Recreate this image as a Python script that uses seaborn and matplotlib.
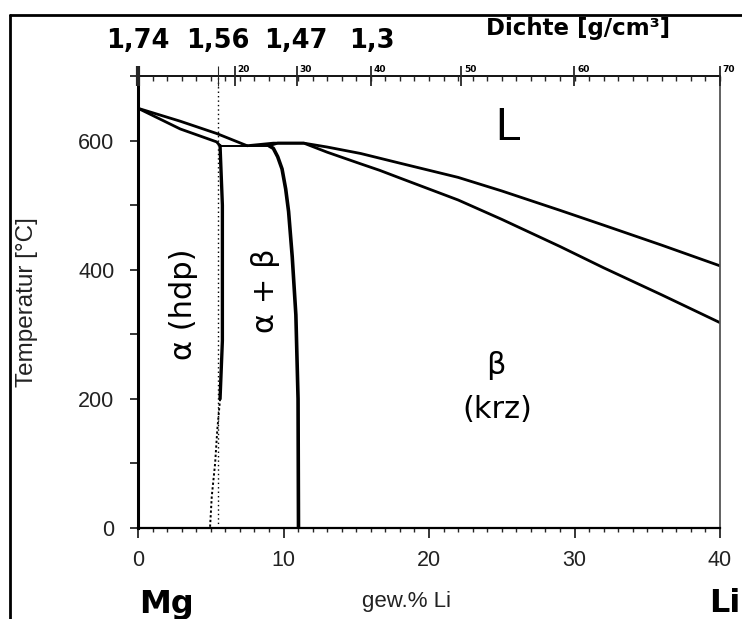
import numpy as np
import pandas as pd
import matplotlib
matplotlib.use("Agg")
import matplotlib.pyplot as plt
import seaborn as sns
from matplotlib.lines import Line2D
from matplotlib.ticker import MultipleLocator, FixedLocator, NullFormatter

# ---------------- data (wt.% Li, temperature in °C) ----------------
liq_a_x = [0, 2.9, 5.4, 7.5]
liq_a_t = [650, 630, 611, 592]
sol_a_x = [0, 2.9, 5.4, 5.64]
sol_a_t = [650, 618, 598, 592]
eut_x = [5.64, 9.0]
eut_t = [592, 592]
liq_b_x = [7.5, 9.3, 11.4, 13.0, 15.3, 18, 22, 25, 29, 32, 36, 40]
liq_b_t = [592, 596, 596, 590, 580, 565, 543, 522, 492, 469, 438, 406]
sol_b_x = [9.0, 9.6, 11.4, 13.0, 15.3, 16.6, 18, 22, 25, 29, 32, 36, 40]
sol_b_t = [592, 596, 596, 582, 564, 554, 542, 508, 478, 436, 403, 361, 318]
solv_b_x = [9.0, 9.3, 9.6, 9.9, 10.15, 10.35, 10.6, 10.85, 11.0, 11.03]
solv_b_t = [592, 588, 575, 556, 525, 490, 420, 330, 200, 0]
solv_a_x = [5.64, 5.8, 5.8, 5.64]
solv_a_t = [592, 500, 290, 200]
solv_a_dot_x = [5.64, 5.45, 5.3, 5.07, 4.95]
solv_a_dot_t = [200, 152, 100, 49, 0]
ref_x = [5.52, 5.52]
ref_t = [0, 700]

x_ticks = [0, 10, 20, 30, 40]
y_ticks = [0, 200, 400, 600]
at_pct = [20, 30, 40, 50, 60, 70]
density_labels = ["1,74", "1,56", "1,47", "1,3"]
density_wt = [0.0, 5.52, 10.85, 16.07]
M_LI, M_MG = 6.941, 24.305


def at_to_wt(a):
    a = np.asarray(a, dtype=float)
    return 100 * a * M_LI / (a * M_LI + (100 - a) * M_MG)


# ---------------- style ----------------
sns.set_style("white")
plt.rcParams["font.family"] = ["Liberation Sans", "DejaVu Sans"]
plt.rcParams["text.color"] = "black"

W, H = 742, 619
fig = plt.figure(figsize=(W / 100, H / 100), dpi=100)
ax = fig.add_axes([138 / W, 1 - 528 / H, (720 - 138) / W, (528 - 76) / H])


def curve(xs, ts, lw=2.0, ls="-", color="black"):
    df = pd.DataFrame({"x": xs, "T": ts})
    sns.lineplot(data=df, x="x", y="T", ax=ax, sort=False, estimator=None,
                 color=color, lw=lw, linestyle=ls)


curve(liq_a_x, liq_a_t, 2.0)
curve(sol_a_x, sol_a_t, 2.0)
curve(eut_x, eut_t, 1.4)
curve(liq_b_x, liq_b_t, 2.0)
curve(sol_b_x, sol_b_t, 2.0)
curve(solv_b_x, solv_b_t, 2.6)
curve(solv_a_x, solv_a_t, 2.4)
curve(solv_a_dot_x, solv_a_dot_t, 1.4, (0, (1.2, 1.2)))
curve(ref_x, ref_t, 1.0, (0, (1, 2.2)))

ax.set_xlim(0, 40)
ax.set_ylim(0, 700)
ax.set_xlabel("")
ax.set_ylabel("")

ax.xaxis.set_major_locator(FixedLocator(x_ticks))
ax.xaxis.set_minor_locator(MultipleLocator(1))
ax.yaxis.set_major_locator(FixedLocator(y_ticks))
ax.yaxis.set_minor_locator(MultipleLocator(100))
ax.tick_params(axis="x", which="major", direction="out", length=7, width=1.3,
               pad=9, labelsize=15.5, labelcolor="#222", bottom=True, top=False)
ax.tick_params(axis="x", which="minor", direction="out", length=3, width=1.0,
               bottom=True, top=False)
ax.tick_params(axis="y", which="both", direction="out", length=6, width=1.3,
               pad=11, labelsize=15.5, labelcolor="#222", left=True, right=False)

for side, lw, col in [("left", 2.2, "black"), ("bottom", 1.6, "black"),
                      ("top", 1.3, "black"), ("right", 1.3, "#555555")]:
    ax.spines[side].set_visible(True)
    ax.spines[side].set_linewidth(lw)
    ax.spines[side].set_color(col)

# ---------------- top axis: at.% Li and density ----------------
ax2 = ax.twiny()
ax2.set_xlim(0, 40)
for s in ax2.spines.values():
    s.set_visible(False)
top_major = [0.0, 5.52] + list(at_to_wt(at_pct))
ax2.xaxis.set_major_locator(FixedLocator(top_major))
ax2.xaxis.set_major_formatter(NullFormatter())
ax2.xaxis.set_minor_locator(MultipleLocator(1))
ax2.tick_params(axis="x", which="major", direction="inout", length=14, width=1.3)
ax2.tick_params(axis="x", which="minor", direction="in", length=3.5, width=1.0)
ticks = ax2.xaxis.get_major_ticks()
ticks[0].tick2line.set_markeredgewidth(3)
ticks[1].tick2line.set_markeredgewidth(0.8)

for a, w in zip(at_pct, at_to_wt(at_pct)):
    ax2.annotate(str(a), xy=(w, 1), xycoords=("data", "axes fraction"),
                 xytext=(2, 1.5), textcoords="offset points", ha="left",
                 va="bottom", fontsize=6.5, family="DejaVu Sans", fontweight="bold")

for lab, w in zip(density_labels, density_wt):
    ax2.text(w, 1.078, lab, transform=ax2.get_xaxis_transform(), ha="center",
             va="center", fontsize=18.5, fontweight="bold", family="DejaVu Sans")

ax2.text(578 / W, 1 - 29 / H, "Dichte [g/cm³]", transform=fig.transFigure,
         ha="center", va="center", fontsize=16.5, fontweight="bold",
         family="DejaVu Sans")

# ---------------- region labels ----------------
ax.text(25.4, 619, "L", ha="center", va="center", fontsize=33)
ax.text(3.1, 347, "α (hdp)", ha="center", va="center", fontsize=22,
        rotation=90, family="DejaVu Sans")
ax.text(8.73, 367, "α + β", ha="center", va="center", fontsize=22,
        rotation=90, family="DejaVu Sans")
ax.text(24.6, 252, "β", ha="center", va="center", fontsize=22,
        family="DejaVu Sans")
ax.text(24.7, 183, "(krz)", ha="center", va="center", fontsize=22,
        family="DejaVu Sans")

# ---------------- axis titles ----------------
fig.text(27 / W, 1 - 302 / H, "Temperatur [°C]", rotation=90, ha="center",
         va="center", fontsize=17.5, color="#222")
fig.text(406 / W, 1 - 601 / H, "gew.% Li", ha="center", va="center",
         fontsize=16, color="#222")
fig.text(166 / W, 1 - 604 / H, "Mg", ha="center", va="center", fontsize=23,
         fontweight="bold", family="DejaVu Sans")
fig.text(709 / W, 1 - 604 / H, "Li", ha="left", va="center", fontsize=23,
         fontweight="bold", family="DejaVu Sans")

# ---------------- outer frame ----------------
fig.add_artist(Line2D([10 / W, 1], [1 - 14.5 / H] * 2, transform=fig.transFigure,
                      color="black", lw=2))
fig.add_artist(Line2D([10 / W] * 2, [0, 1 - 14.5 / H], transform=fig.transFigure,
                      color="black", lw=2))

fig.savefig("out.png", dpi=100)
